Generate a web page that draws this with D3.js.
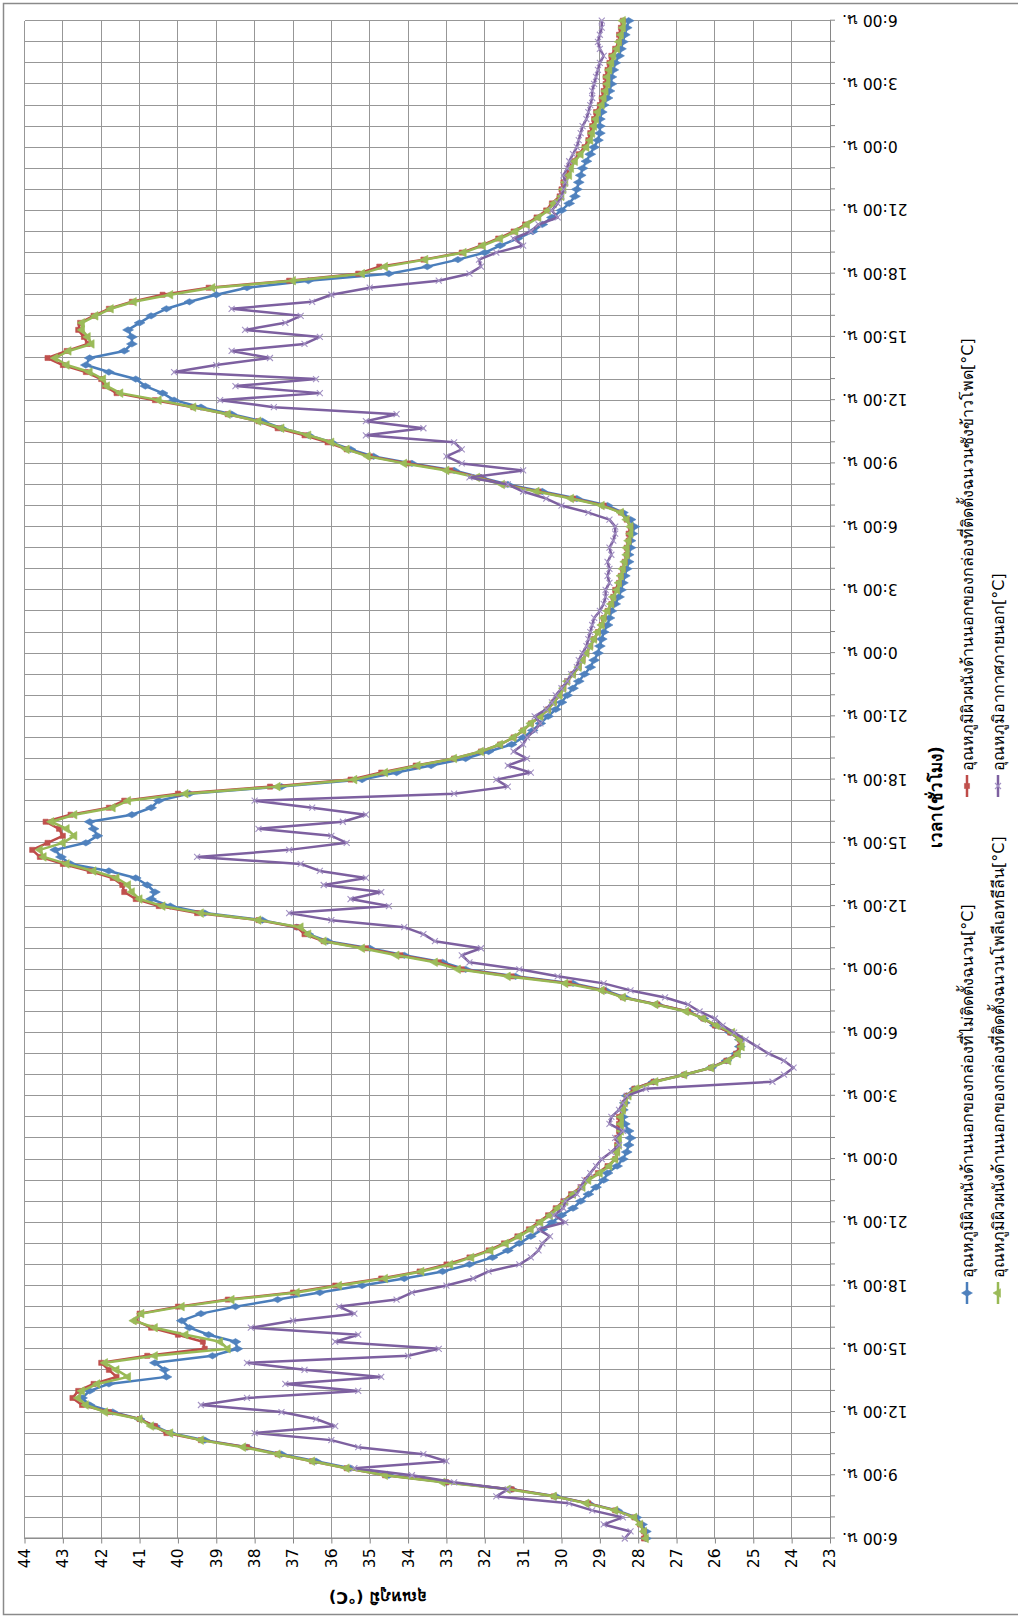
<!DOCTYPE html>
<html>
<head>
<meta charset="utf-8">
<script src="https://cdn.jsdelivr.net/npm/d3@7"></script>
<style>
  html, body { margin: 0; padding: 0; background: #ffffff; }
  svg { display: block; }
  text { font-family: Tahoma, "DejaVu Sans", "Noto Sans", sans-serif; fill: #000; }
</style>
</head>
<body>
<svg id="chart" width="1018" height="1622"></svg>
<script>
// ---- data -----------------------------------------------------------
// readings every 20 minutes, starting 6:00 on day 1, for 72 hours
const sampleMinutes = 20;

const hourTickLabels = [
  "6:00 น.", "9:00 น.", "12:00 น.", "15:00 น.", "18:00 น.", "21:00 น.", "0:00 น.", "3:00 น.",
  "6:00 น.", "9:00 น.", "12:00 น.", "15:00 น.", "18:00 น.", "21:00 น.", "0:00 น.", "3:00 น.",
  "6:00 น.", "9:00 น.", "12:00 น.", "15:00 น.", "18:00 น.", "21:00 น.", "0:00 น.", "3:00 น.",
  "6:00 น."
];

const valueTicks = [23, 24, 25, 26, 27, 28, 29, 30, 31, 32, 33, 34, 35, 36, 37, 38, 39, 40, 41, 42, 43, 44];

const seriesNames = [
  "อุณหภูมิผิวผนังด้านนอกของกล่องที่ไม่ติดตั้งฉนวน[°C]",
  "อุณหภูมิผิวผนังด้านนอกของกล่องที่ติดตั้งฉนวนซังข้าวโพด[°C]",
  "อุณหภูมิผิวผนังด้านนอกของกล่องที่ติดตั้งฉนวนโพลีเอทธีลีน[°C]",
  "อุณหภูมิอากาศภายนอก[°C]"
];

// outer wall surface, box without insulation
const wallNoInsulation = [
  27.8, 27.8, 27.9, 28.05, 28.55, 29.3, 30.15, 31.3, 33.0, 34.5, 35.5, 36.4,
  37.3, 38.2, 39.3, 40.2, 40.6, 41.0, 41.7, 42.3, 42.5, 42.3, 41.8, 40.3,
  40.35, 40.6, 39.1, 38.45, 38.5, 39.2, 39.7, 39.9, 39.4, 38.5, 37.4, 36.3,
  35.2, 34.1, 33.1, 32.4, 31.8, 31.4, 31.1, 30.8, 30.5, 30.25, 30.0, 29.7,
  29.5, 29.3, 29.1, 28.9, 28.8, 28.55, 28.4, 28.3, 28.25, 28.2, 28.25, 28.35,
  28.4, 28.4, 28.35, 28.3, 28.1, 27.6, 26.8, 26.1, 25.7, 25.45, 25.35, 25.35,
  25.6, 26.0, 26.3, 26.7, 27.5, 28.35, 28.85, 29.7, 31.2, 32.5, 33.1, 34.1,
  35.0, 36.1, 36.6, 36.9, 37.8, 39.3, 40.2, 40.7, 40.6, 40.8, 41.1, 41.8,
  42.8, 43.05, 43.2, 42.4, 42.1, 42.2, 42.3, 41.2, 40.7, 40.5, 39.7, 37.3,
  35.2, 34.3, 33.4, 32.5, 31.9, 31.3, 31.0, 30.75, 30.55, 30.35, 30.15, 30.0,
  29.85, 29.7, 29.55, 29.4, 29.25, 29.15, 29.05, 29.0, 28.95, 28.9, 28.8, 28.75,
  28.7, 28.6, 28.5, 28.45, 28.4, 28.35, 28.3, 28.25, 28.25, 28.2, 28.2, 28.15,
  28.1, 28.2, 28.4, 28.8, 29.6, 30.5, 31.4, 32.1, 32.8, 33.9, 34.9, 35.5,
  36.0, 36.6, 37.3, 37.8, 38.6, 39.4, 40.1, 40.4, 40.85, 41.1, 41.8, 42.4,
  42.3, 41.4, 41.2, 41.2, 41.3, 41.0, 40.7, 40.3, 39.7, 39.0, 38.2, 36.6,
  34.5, 33.5, 32.7, 32.0, 31.6, 31.15, 30.75, 30.5, 30.25, 30.0, 29.8, 29.65,
  29.6, 29.55, 29.5, 29.45, 29.35, 29.25, 29.15, 29.05, 29.0, 29.0, 29.0, 28.95,
  28.9, 28.8, 28.75, 28.7, 28.7, 28.65, 28.6, 28.5, 28.45, 28.4, 28.35, 28.3,
  28.25
];

// outer wall surface, box with corn-cob insulation
const wallCornCob = [
  27.85, 27.85, 27.95, 28.1, 28.6, 29.3, 30.2, 31.3, 33.0, 34.6, 35.6, 36.5,
  37.4, 38.2, 39.4, 40.3, 40.6, 41.0, 41.8, 42.5, 42.75, 42.6, 42.2, 41.6,
  41.8, 42.0, 40.8, 39.3, 39.35, 40.0, 40.7, 41.1, 41.0, 40.0, 38.7, 37.0,
  35.9, 34.7, 33.7, 33.0, 32.4, 31.9, 31.5, 31.15, 30.85, 30.6, 30.35, 30.15,
  29.95, 29.75, 29.5, 29.35, 29.05, 28.8, 28.6, 28.55, 28.55, 28.55, 28.5, 28.5,
  28.5, 28.4, 28.35, 28.3, 28.1, 27.6, 26.8, 26.1, 25.7, 25.45, 25.35, 25.35,
  25.6, 26.0, 26.3, 26.7, 27.5, 28.4, 28.9, 29.8, 31.3, 32.6, 33.2, 34.2,
  35.1, 36.2, 36.7, 36.9, 37.9, 39.5, 40.5, 41.1, 41.4, 41.45, 41.7, 42.3,
  43.0, 43.6, 43.8, 43.4, 43.0, 43.1, 43.45, 42.8, 41.8, 41.4, 40.0, 37.6,
  35.5, 34.7, 33.8, 32.8, 32.1, 31.6, 31.25, 31.0, 30.8, 30.55, 30.35, 30.2,
  30.05, 29.95, 29.85, 29.7, 29.55, 29.45, 29.35, 29.25, 29.15, 29.05, 28.95, 28.9,
  28.8, 28.7, 28.65, 28.6, 28.5, 28.45, 28.4, 28.35, 28.3, 28.3, 28.25, 28.25,
  28.2, 28.3, 28.45, 28.9, 29.7, 30.6, 31.5, 32.15, 32.9, 34.0, 35.0, 35.6,
  36.1, 36.7, 37.4, 37.9, 38.7, 39.6, 40.6, 41.6, 41.9, 42.0, 42.4, 43.0,
  43.4, 42.9, 42.35, 42.45, 42.6, 42.55, 42.2, 41.8, 41.2, 40.4, 39.2, 37.1,
  35.3, 34.75, 33.6, 32.6, 32.1, 31.65, 31.25, 30.95, 30.65, 30.4, 30.25, 30.05,
  30.0, 29.95, 29.85, 29.8, 29.7, 29.55, 29.4, 29.3, 29.25, 29.2, 29.15, 29.1,
  29.0, 28.95, 28.9, 28.85, 28.85, 28.8, 28.75, 28.7, 28.6, 28.5, 28.5, 28.45,
  28.4
];

// outer wall surface, box with polyethylene insulation
const wallPolyethylene = [
  27.8, 27.85, 27.95, 28.1, 28.6, 29.35, 30.2, 31.4, 33.1, 34.6, 35.6, 36.5,
  37.4, 38.3, 39.4, 40.2, 40.7, 41.0, 41.9, 42.4, 42.6, 42.5, 42.1, 41.3,
  41.6, 41.9, 40.6, 38.7, 38.9, 39.8, 40.6, 41.15, 40.95, 39.9, 38.6, 36.9,
  35.8, 34.6, 33.65, 32.9, 32.35, 31.85, 31.45, 31.1, 30.8, 30.55, 30.3, 30.1,
  29.9, 29.7, 29.45, 29.3, 29.0, 28.75, 28.6, 28.55, 28.5, 28.5, 28.45, 28.45,
  28.45, 28.4, 28.35, 28.25, 28.05, 27.55, 26.8, 26.1, 25.65, 25.4, 25.3, 25.35,
  25.55, 25.95, 26.3, 26.75, 27.55, 28.4, 28.95, 29.9, 31.4, 32.7, 33.3, 34.3,
  35.2, 36.2, 36.6, 36.8, 37.9, 39.4, 40.4, 41.0, 41.2, 41.3, 41.6, 42.2,
  42.9, 43.5, 43.6, 43.0, 42.7, 42.9, 43.3, 42.7, 41.7, 41.3, 39.8, 37.4,
  35.4, 34.6, 33.75, 32.8, 32.1, 31.6, 31.25, 31.0, 30.8, 30.55, 30.35, 30.2,
  30.05, 29.95, 29.85, 29.7, 29.55, 29.45, 29.35, 29.25, 29.15, 29.05, 28.95, 28.9,
  28.8, 28.7, 28.65, 28.55, 28.5, 28.45, 28.4, 28.35, 28.3, 28.3, 28.25, 28.2,
  28.2, 28.3, 28.45, 28.95, 29.75, 30.65, 31.55, 32.2, 33.0, 34.1, 35.05, 35.6,
  36.0, 36.6, 37.3, 37.9, 38.7, 39.6, 40.5, 41.5, 41.85, 41.95, 42.3, 42.9,
  43.2, 42.85, 42.25, 42.35, 42.5, 42.5, 42.15, 41.75, 41.15, 40.2, 39.1, 37.0,
  35.2, 34.6, 33.55, 32.55, 32.05, 31.6, 31.2, 30.9, 30.6, 30.35, 30.2, 30.0,
  29.95, 29.9, 29.8, 29.75, 29.65, 29.5, 29.35, 29.25, 29.2, 29.15, 29.1, 29.05,
  28.95, 28.9, 28.85, 28.8, 28.8, 28.75, 28.7, 28.65, 28.55, 28.5, 28.45, 28.4,
  28.4
];

// outdoor air
const outdoorAir = [
  28.35, 28.2, 28.9, 28.4, 29.2, 29.8, 31.7, 31.4, 32.8, 33.9, 35.4, 33.0,
  33.6, 35.3, 36.0, 38.0, 35.9, 36.4, 37.3, 39.4, 38.2, 35.3, 37.2, 34.7,
  36.7, 38.2, 34.0, 33.2, 35.9, 35.3, 38.1, 37.0, 35.4, 35.8, 34.3, 33.9,
  33.0, 32.3, 31.9, 31.1, 30.8, 30.6, 30.5, 30.3, 30.6, 29.9, 30.2, 29.95,
  29.9, 29.6, 29.5, 29.4, 29.25, 29.1, 28.95, 28.7, 28.5, 28.6, 28.4, 28.75,
  28.7, 28.5, 28.4, 28.3, 27.8, 24.5, 24.2, 23.95, 24.2, 24.6, 24.9, 25.2,
  25.5, 25.8, 26.0, 26.4, 26.7, 27.3, 28.2, 28.9, 30.1, 31.1, 32.4, 32.6,
  32.1, 33.3, 33.6, 34.1, 36.0, 37.1, 34.5, 35.5, 34.7, 36.2, 35.1, 36.3,
  36.8, 39.5, 37.1, 35.6, 36.0, 37.9, 35.7, 35.1, 36.5, 38.0, 32.8, 31.4,
  31.7, 30.8, 31.4, 30.9, 31.25, 31.0, 30.9, 30.7, 30.55, 30.7, 30.4, 30.25,
  30.15, 30.0, 29.85, 29.75, 29.6, 29.55, 29.45, 29.35, 29.3, 29.25, 29.2, 29.15,
  29.0, 28.9, 28.85, 28.85, 28.75, 28.8, 28.75, 28.8, 28.7, 28.75, 28.65, 28.6,
  28.6, 28.75, 29.3, 30.0, 30.4, 31.0, 31.4, 32.4, 31.0, 32.6, 33.0, 32.6,
  32.8, 35.1, 33.6, 35.1, 34.3, 37.5, 38.9, 36.3, 38.5, 36.4, 40.1, 39.0,
  37.6, 38.6, 36.7, 36.3, 38.25, 37.2, 36.8, 38.6, 36.5, 36.0, 35.0, 33.2,
  32.4, 32.1, 32.15, 31.7, 31.0, 31.25, 30.8, 30.6, 30.1, 30.25, 30.1, 30.0,
  29.95, 29.9, 29.95, 29.85, 29.8, 29.7, 29.6, 29.55, 29.5, 29.45, 29.35, 29.3,
  29.25, 29.2, 29.2, 29.15, 29.1, 29.05, 29.0, 28.9, 29.0, 29.05, 29.0, 28.95,
  28.95
];

// ---- drawing ----------------------------------------------------------
// The chart is laid out as a landscape chart (time across, temperature up)
// and the whole frame is then turned a quarter turn counter-clockwise.
const frameW = 1622, frameH = 1018;
const plot = { left: 83.5, right: 1601.3, top: 24.5, bottom: 830 };
const fontStack = 'Tahoma, "DejaVu Sans", "Noto Sans", sans-serif';

const svg = d3.select("#chart");
const frame = svg.append("g")
  .attr("transform", `translate(0,${frameW}) rotate(-90)`);

const x = d3.scaleLinear().domain([0, 72]).range([plot.left, plot.right]);
const y = d3.scaleLinear().domain([23, 44]).range([plot.bottom, plot.top]);

const hours = d3.range(0, 73);
const gridColor = "#979797";
const axisColor = "#868686";

// gridlines
const grid = frame.append("g").attr("shape-rendering", "crispEdges");
grid.selectAll("line.vh").data(hours).join("line")
  .attr("x1", d => x(d)).attr("x2", d => x(d))
  .attr("y1", plot.top).attr("y2", plot.bottom)
  .attr("stroke", gridColor).attr("stroke-width", 1);
grid.selectAll("line.hv").data(valueTicks).join("line")
  .attr("x1", plot.left).attr("x2", plot.right)
  .attr("y1", d => y(d)).attr("y2", d => y(d))
  .attr("stroke", gridColor).attr("stroke-width", 1);

// time axis (along the bottom of the landscape frame)
const xAxis = d3.axisBottom(x)
  .tickValues(hours)
  .tickSize(5)
  .tickSizeOuter(0)
  .tickFormat(h => (h % 3 === 0 ? hourTickLabels[h / 3] : ""));
const gx = frame.append("g")
  .attr("transform", `translate(0,${plot.bottom})`)
  .call(xAxis);
gx.select(".domain").attr("stroke", axisColor);
gx.selectAll(".tick line").attr("stroke", axisColor);
gx.selectAll(".tick text")
  .attr("y", 0).attr("x", -12).attr("dy", "0.35em")
  .attr("transform", "rotate(-90)")
  .attr("text-anchor", "end")
  .attr("font-size", 15.5)
  .style("font-family", fontStack)
  .attr("fill", "#000");

// temperature axis (along the left of the landscape frame)
const yAxis = d3.axisLeft(y)
  .tickValues(valueTicks)
  .tickSize(5)
  .tickSizeOuter(0)
  .tickPadding(5)
  .tickFormat(d3.format("d"));
const gy = frame.append("g")
  .attr("transform", `translate(${plot.left},0)`)
  .call(yAxis);
gy.select(".domain").attr("stroke", axisColor);
gy.selectAll(".tick line").attr("stroke", axisColor);
gy.selectAll(".tick text")
  .attr("font-size", 15.5)
  .style("font-family", fontStack)
  .attr("fill", "#000");

// axis titles
frame.append("text")
  .attr("transform", "translate(24,378) rotate(-90)")
  .attr("text-anchor", "middle")
  .attr("dy", "0.35em")
  .attr("font-size", 16)
  .attr("font-weight", "bold")
  .text("อุณหภูมิ (°C)");

frame.append("text")
  .attr("x", 825).attr("y", 936)
  .attr("text-anchor", "middle")
  .attr("dy", "0.35em")
  .attr("font-size", 17)
  .attr("font-weight", "bold")
  .text("เวลา(ชั่วโมง)");

// series
const series = [
  { name: seriesNames[0], values: wallNoInsulation, line: "#4A7EBB", mark: "#4F81BD", shape: "diamond" },
  { name: seriesNames[1], values: wallCornCob,      line: "#BE4B48", mark: "#C0504D", shape: "square" },
  { name: seriesNames[2], values: wallPolyethylene, line: "#98B954", mark: "#9BBB59", shape: "triangle" },
  { name: seriesNames[3], values: outdoorAir,       line: "#7D60A0", mark: "#A493C4", shape: "cross" }
];

const tOf = i => i * sampleMinutes / 60;
const lineGen = d3.line()
  .x((d, i) => x(tOf(i)))
  .y(d => y(d));

const symbolPath = {
  diamond: d3.symbol().type(d3.symbolDiamond).size(34)(),
  square: d3.symbol().type(d3.symbolSquare).size(26)(),
  triangle: d3.symbol().type(d3.symbolTriangle).size(32)(),
  cross: "M-3,-3L3,3M3,-3L-3,3"
};

function drawMarker(sel, s) {
  if (s.shape === "cross") {
    sel.attr("d", symbolPath.cross).attr("fill", "none")
      .attr("stroke", s.mark).attr("stroke-width", 1.1);
  } else {
    sel.attr("d", symbolPath[s.shape]).attr("fill", s.mark)
      .attr("stroke", s.mark).attr("stroke-width", 0.6);
  }
}

const seriesLayer = frame.append("g");
series.forEach(s => {
  const g = seriesLayer.append("g");
  g.append("path")
    .datum(s.values)
    .attr("d", lineGen)
    .attr("fill", "none")
    .attr("stroke", s.line)
    .attr("stroke-width", 2.5)
    .attr("stroke-linejoin", "round");
  g.selectAll("path.m").data(s.values).join("path")
    .attr("class", "m")
    .attr("transform", (d, i) => `translate(${x(tOf(i))},${y(d)})`)
    .call(drawMarker, s);
});

// legend, two rows under the time axis title
const legendSlots = [
  { cx: 329, cy: 967 }, { cx: 836, cy: 967 },
  { cx: 329, cy: 998 }, { cx: 836, cy: 998 }
];
const legend = frame.append("g");
series.forEach((s, k) => {
  const slot = legendSlots[k];
  const item = legend.append("g").attr("transform", `translate(${slot.cx},${slot.cy})`);
  item.append("line")
    .attr("x1", -11).attr("x2", 11)
    .attr("stroke", s.line).attr("stroke-width", 2.5);
  item.append("path").call(drawMarker, s);
  item.append("text")
    .attr("x", 15).attr("dy", "0.35em")
    .attr("font-size", 16)
    .text(s.name);
});

// chart area border
svg.append("rect")
  .attr("x", 3.5).attr("y", 3.5)
  .attr("width", 1030).attr("height", 1611)
  .attr("fill", "none")
  .attr("stroke", "#8a8a8a")
  .attr("stroke-width", 1.5);
</script>
</body>
</html>
